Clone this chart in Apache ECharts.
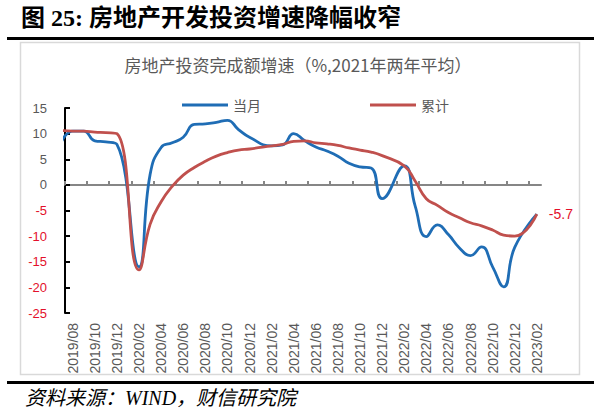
<!DOCTYPE html>
<html><head><meta charset="utf-8">
<script src="https://cdn.jsdelivr.net/npm/echarts@6/dist/echarts.min.js"></script>
<style>html,body{margin:0;padding:0;background:#fff}#c{width:602px;height:418px}</style>
</head><body><div id="c"></div>
<script>
// ---- data ----
const months = ['2019/07','2019/08','2019/09','2019/10','2019/11','2019/12',
 '2020/01','2020/02','2020/03','2020/04','2020/05','2020/06','2020/07','2020/08','2020/09','2020/10','2020/11','2020/12',
 '2021/01','2021/02','2021/03','2021/04','2021/05','2021/06','2021/07','2021/08','2021/09','2021/10','2021/11','2021/12',
 '2022/01','2022/02','2022/03','2022/04','2022/05','2022/06','2022/07','2022/08','2022/09','2022/10','2022/11','2022/12',
 '2023/01','2023/02'];
const monthly = [8.5, 10.5, 10.5, 8.6, 8.4, 7.9,
 null, -16.0, 2.0, 7.3, 8.2, 9.3, 11.8, 11.9, 12.2, 12.6, 10.8, 9.3,
 null, 7.6, 7.8, 10.0, 8.6, 7.4, 6.6, 5.6, 4.2, 3.5, 3.3, -2.7,
 null, 3.7, -4.2, -10.1, -7.8, -9.7, -12.3, -13.8, -12.1, -16.0, -19.9, -12.2,
 null, -5.7];
const cumulative = [10.6, 10.5, 10.5, 10.3, 10.2, 10.0,
 null, -16.6, -7.7, -3.3, -0.3, 1.9, 3.4, 4.6, 5.6, 6.3, 6.8, 7.0,
 null, 7.6, 7.9, 8.5, 8.6, 8.2, 8.0, 7.7, 7.2, 6.8, 6.4, 5.7,
 null, 3.7, 0.7, -2.7, -4.0, -5.4, -6.4, -7.4, -8.0, -8.8, -9.8, -10.0,
 null, -5.7];
const xTickLabels = ['2019/08','2019/10','2019/12','2020/02','2020/04','2020/06','2020/08','2020/10','2020/12',
 '2021/02','2021/04','2021/06','2021/08','2021/10','2021/12','2022/02','2022/04','2022/06','2022/08','2022/10','2022/12','2023/02'];
const seriesNames = ['当月','累计'];
const mainTitle = '图 25: 房地产开发投资增速降幅收窄';
const chartTitle = '房地产投资完成额增速（%,2021年两年平均）';
const sourceText = '资料来源：WIND，财信研究院';

// ---- styles ----
const BLUE = '#1f6db5', RED = '#c0504d', RED_LBL = '#e3102b', GRAY = '#595959';
const xMin = 0.3, xMax = 43.38;
const labelIdx = xTickLabels.map(l => months.indexOf(l));
const tickIdx = labelIdx.map(i => i - 0.7);
const pair = arr => arr.map((v, i) => [i, v]).filter(d => d[1] !== null);

const chart = echarts.init(document.getElementById('c'), null, {renderer: 'svg', width: 602, height: 418});
chart.setOption({
  animation: false,
  backgroundColor: '#fff',
  textStyle: {fontFamily: "'Liberation Sans','Noto Sans CJK SC',sans-serif"},
  grid: {left: 65, top: 108, width: 476, height: 205, outerBoundsMode: 'none'},
  legend: {
    left: 177, top: 93, itemWidth: 46, itemHeight: 3, itemGap: 109, icon: 'rect',
    textStyle: {color: GRAY, fontSize: 14, fontFamily: "'Noto Sans CJK SC',sans-serif"},
    data: seriesNames
  },
  xAxis: [{
    type: 'value', min: xMin, max: xMax, position: 'bottom',
    axisLine: {show: false, onZero: false}, axisTick: {show: false}, splitLine: {show: false},
    axisLabel: {customValues: labelIdx, rotate: 90, margin: 10, color: GRAY, fontSize: 14,
      formatter: v => months[Math.round(v)]}
  }, {
    type: 'value', min: xMin, max: xMax, position: 'bottom',
    axisLine: {show: true, onZero: true, lineStyle: {color: '#868686', width: 2}},
    axisTick: {show: true, inside: true, length: 4, customValues: tickIdx, lineStyle: {color: '#868686', width: 2}},
    axisLabel: {show: false}, splitLine: {show: false}
  }],
  yAxis: {
    type: 'value', min: -25, max: 15, interval: 5,
    axisLine: {show: true, onZero: false, lineStyle: {color: '#000', width: 2}},
    axisTick: {show: true, inside: true, length: 5, lineStyle: {color: '#000', width: 2}},
    splitLine: {show: false},
    axisLabel: {margin: 18, fontSize: 13, color: v => parseFloat(v) < 0 ? RED_LBL : GRAY}
  },
  series: [{
    name: seriesNames[0], type: 'line', xAxisIndex: 0, data: pair(monthly), smooth: 0.5,
    symbol: 'none', lineStyle: {color: BLUE, width: 2.8}, itemStyle: {color: BLUE}
  }, {
    name: seriesNames[1], type: 'line', xAxisIndex: 0, data: pair(cumulative), smooth: 0.5,
    symbol: 'none', lineStyle: {color: RED, width: 2.8}, itemStyle: {color: RED},
    endLabel: {show: true, formatter: p => String(p.value[1]), color: RED_LBL, fontSize: 14, distance: 12}
  }],
  graphic: [
    {type: 'rect', z: -10, silent: true, shape: {x: 20.5, y: 42.5, width: 559, height: 332},
      style: {fill: 'none', stroke: '#d9d9d9', lineWidth: 1.5}},
    {type: 'rect', silent: true, shape: {x: 7, y: 37, width: 587, height: 3}, style: {fill: '#000'}},
    {type: 'rect', silent: true, shape: {x: 7, y: 381, width: 587, height: 3}, style: {fill: '#000'}},
    {type: 'text', x: 21, y: 18, silent: true,
      style: {text: mainTitle, fill: '#000', align: 'left', verticalAlign: 'middle',
        font: "bold 24px 'Liberation Serif','Noto Sans CJK SC',serif"}},
    {type: 'text', x: 298, y: 64, silent: true,
      style: {text: chartTitle, fill: GRAY, align: 'center', verticalAlign: 'middle',
        font: "17px 'Noto Sans CJK SC',sans-serif"}},
    {type: 'text', x: 25, y: 398, silent: true,
      style: {text: sourceText, fill: '#000', align: 'left', verticalAlign: 'middle',
        font: "italic 20px 'Liberation Serif','Noto Sans CJK SC',serif"}}
  ]
});
</script></body></html>
